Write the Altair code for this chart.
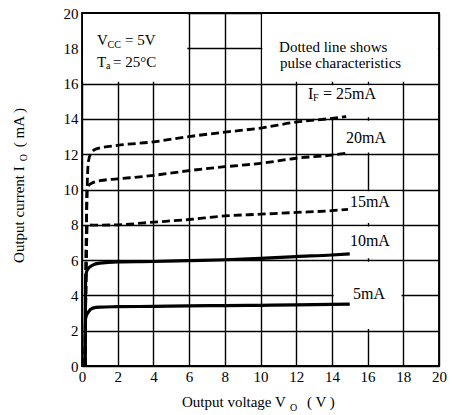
import altair as alt
import pandas as pd

FONT = "Liberation Serif"

# ---- curve data (Output voltage V_O [V], Output current I_O [mA]) ----
curve_names = ["25mA", "20mA", "15mA", "10mA", "5mA"]
v_25 = [0.17, 0.25, 0.30, 0.35, 0.45, 0.8, 2, 4, 6, 8, 10, 12, 14, 14.8]
i_25 = [0, 8, 10.5, 11.5, 11.95, 12.3, 12.5, 12.7, 13.0, 13.25, 13.48, 13.82, 14.03, 14.13]
v_20 = [0.17, 0.25, 0.28, 0.45, 1, 2, 4, 6, 8, 10, 12, 14, 14.8]
i_20 = [0, 8, 9.9, 10.3, 10.5, 10.6, 10.8, 11.07, 11.29, 11.48, 11.77, 11.95, 12.05]
v_15 = [0.17, 0.3, 0.6, 2, 4, 6, 8, 10, 12, 14, 14.9]
i_15 = [0, 8.0, 7.98, 8.0, 8.15, 8.3, 8.5, 8.6, 8.7, 8.8, 8.88]
v_10 = [0.17, 0.2, 0.3, 0.6, 1, 2, 4, 6, 8, 10, 12, 14, 15]
i_10 = [0, 5.0, 5.45, 5.72, 5.83, 5.9, 5.92, 5.97, 6.02, 6.1, 6.2, 6.29, 6.35]
v_5 = [0.17, 0.2, 0.35, 0.6, 1, 2, 4, 6, 8, 10, 12, 14, 15]
i_5 = [0, 2.7, 3.05, 3.28, 3.34, 3.36, 3.38, 3.41, 3.42, 3.44, 3.46, 3.49, 3.51]
pulse_curves = ["25mA", "20mA", "15mA"]

tick_values = [0, 2, 4, 6, 8, 10, 12, 14, 16, 18, 20]

# white label boxes (data units)
box_x1 = [0.06, 10.1, 12.1, 14.1, 14.1, 14.1, 14.1]
box_x2 = [5.9, 19.94, 17.9, 17.9, 17.9, 17.9, 17.9]
box_y1 = [16.1, 16.1, 14.1, 12.1, 8.1, 6.1, 2.1]
box_y2 = [19.94, 19.94, 15.9, 13.9, 9.9, 7.9, 5.9]

# annotations
ann_text = ["V", "CC", "= 5V", "T", "a", "= 25°C",
            "Dotted line shows", "pulse characteristics",
            "I", "F", "= 25mA", "20mA", "15mA", "10mA", "5mA",
            "Output voltage V", "O", "( V )",
            "Output current I", "O", "( mA )"]
ann_x = [0.84, 1.43, 2.41, 0.84, 1.34, 1.74,
         11.04, 11.09,
         12.66, 12.94, 13.5, 14.79, 15.01, 15.01, 15.18,
         5.60, 11.65, 12.61,
         -3.25, -3.08, -3.25]
ann_y = [18.19, 18.02, 18.19, 16.94, 16.83, 16.94,
         17.81, 16.9,
         15.13, 15.03, 15.13, 12.65, 8.99, 6.82, 3.8,
         -2.32, -2.55, -2.32,
         5.84, 11.6, 12.4]
ann_size = [15, 10, 15, 15, 10, 15,
            15, 15,
            16, 10, 16, 16, 16, 16, 16,
            15, 10, 15,
            15, 10, 15]
ann_angle = [0] * 18 + [270, 270, 270]

rows = []
for name, vs, cs in zip(curve_names, [v_25, v_20, v_15, v_10, v_5],
                        [i_25, i_20, i_15, i_10, i_5]):
    for v, c in zip(vs, cs):
        rows.append({"curve": name, "v": v, "i": c})
curves = pd.DataFrame(rows)
dashed_df = curves[curves["curve"].isin(pulse_curves)]
solid_df = curves[~curves["curve"].isin(pulse_curves)]

boxes = pd.DataFrame({"x1": box_x1, "x2": box_x2, "y1": box_y1, "y2": box_y2})
frame = pd.DataFrame({"x1": [0], "x2": [20], "y1": [0], "y2": [20]})
ann = pd.DataFrame({"x": ann_x, "y": ann_y, "t": ann_text,
                    "s": ann_size, "a": ann_angle})

xs = alt.Scale(domain=[0, 20], nice=False, zero=False)
ys = alt.Scale(domain=[0, 20], nice=False, zero=False)
ax_common = dict(values=tick_values, title=None, grid=True, domain=False,
                 ticks=False, labelFlush=False, labelFont=FONT,
                 labelFontSize=15, labelColor="black", gridColor="black",
                 gridWidth=1.4, gridOpacity=1)
x_axis = alt.Axis(labelPadding=3, **ax_common)
y_axis = alt.Axis(labelPadding=4, **ax_common)

box_layer = alt.Chart(boxes).mark_rect(color="white").encode(
    x=alt.X("x1:Q", scale=xs, axis=x_axis), x2="x2:Q",
    y=alt.Y("y1:Q", scale=ys, axis=y_axis), y2="y2:Q")

solid_layer = alt.Chart(solid_df).mark_line(
    color="black", strokeWidth=3.2, interpolate="monotone").encode(
    x=alt.X("v:Q", scale=xs, axis=x_axis),
    y=alt.Y("i:Q", scale=ys, axis=y_axis),
    detail="curve:N")

dashed_layer = alt.Chart(dashed_df).mark_line(
    color="black", strokeWidth=2.8, strokeDash=[8, 4],
    interpolate="monotone").encode(
    x=alt.X("v:Q", scale=xs, axis=x_axis),
    y=alt.Y("i:Q", scale=ys, axis=y_axis),
    detail="curve:N")

frame_layer = alt.Chart(frame).mark_rect(
    fillOpacity=0, stroke="black", strokeWidth=1.8).encode(
    x=alt.X("x1:Q", scale=xs, axis=x_axis), x2="x2:Q",
    y=alt.Y("y1:Q", scale=ys, axis=y_axis), y2="y2:Q")

text_layer = alt.Chart(ann).mark_text(
    font=FONT, align="left", baseline="alphabetic", color="black").encode(
    x=alt.X("x:Q", scale=xs, axis=x_axis),
    y=alt.Y("y:Q", scale=ys, axis=y_axis),
    text="t:N",
    size=alt.Size("s:Q", scale=None),
    angle=alt.Angle("a:Q", scale=None))

chart = alt.layer(box_layer, solid_layer, dashed_layer, frame_layer, text_layer).properties(
    width=357, height=353,
    autosize=alt.AutoSizeParams(type="none"),
    padding={"left": 82, "top": 13, "right": 13, "bottom": 49},
    background="white",
).configure_view(stroke=None)

chart.save("out.html", embed_options={"renderer": "svg", "actions": False})
